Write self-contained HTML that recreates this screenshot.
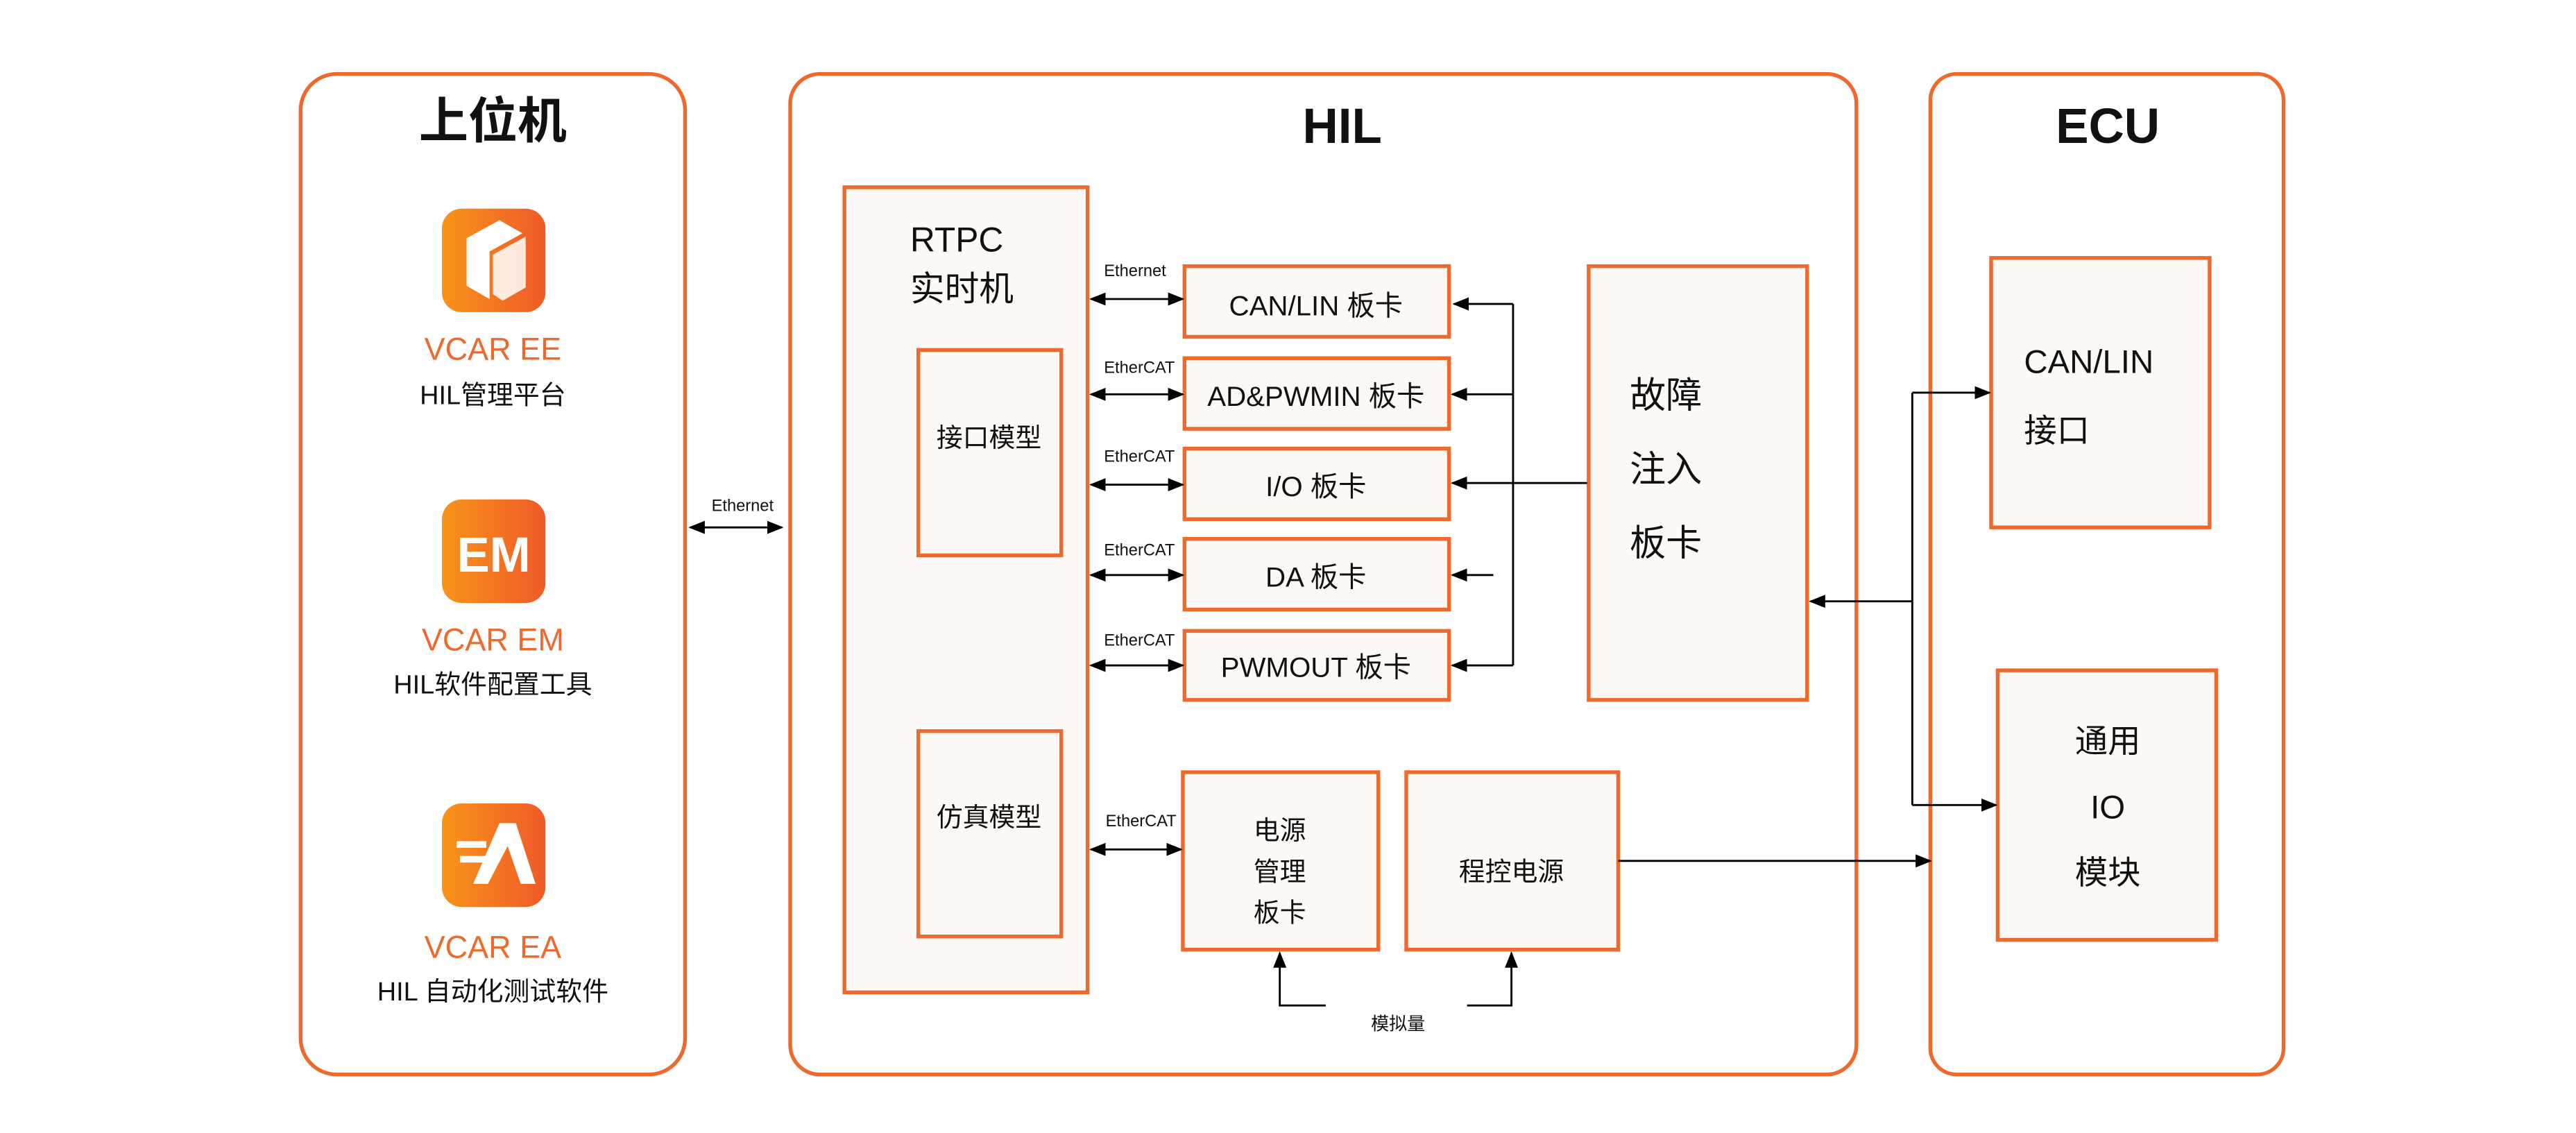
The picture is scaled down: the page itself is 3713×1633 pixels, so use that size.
<!DOCTYPE html>
<html><head><meta charset="utf-8"><style>
html,body{margin:0;padding:0;background:#fff}
svg{display:block}
text{font-family:"Liberation Sans","Noto Sans CJK SC",sans-serif;fill:#111}
</style></head><body>
<svg width="3713" height="1633" viewBox="0 0 1568 689.6" xmlns="http://www.w3.org/2000/svg">
<defs>
<linearGradient id="g" x1="0" x2="1" y1="0" y2="0"><stop offset="0" stop-color="#F8941A"/><stop offset="1" stop-color="#EF5A28"/></linearGradient>
<marker id="a" markerWidth="10" markerHeight="8" refX="9" refY="4" orient="auto-start-reverse" markerUnits="userSpaceOnUse"><path d="M0,0 L10,4 L0,8 z" fill="#000"/></marker>
</defs>
<g fill="none" stroke="#ED6A2E" stroke-width="2.3">
<rect x="183" y="45" width="234" height="609" rx="22" fill="#fff"/>
<rect x="481" y="45" width="649" height="609" rx="18" fill="#fff"/>
<rect x="1175" y="45" width="215" height="609" rx="16" fill="#fff"/>
<g fill="#FDF9F6">
<rect x="514" y="114" width="148" height="490"/>
<rect x="559" y="213" width="87" height="125"/>
<rect x="559" y="445" width="87" height="125"/>
<rect x="721" y="162" width="161" height="43"/>
<rect x="721" y="218" width="161" height="43"/>
<rect x="721" y="273" width="161" height="43"/>
<rect x="721" y="328" width="161" height="43"/>
<rect x="721" y="384" width="161" height="42"/>
<rect x="967" y="162" width="133" height="264"/>
<rect x="720" y="470" width="119" height="108"/>
<rect x="856" y="470" width="129" height="108"/>
<rect x="1212" y="157" width="133" height="164"/>
<rect x="1216" y="408" width="133" height="164"/>
</g></g>
<!-- icons -->
<rect x="269" y="127" width="63" height="63" rx="12" fill="url(#g)"/>
<path d="M284,145 L304,134 L318,142 L298,153 L298,182 L284,174 z" fill="#fff"/>
<path d="M300,155 L320,144 L320,175 L306,183 L300,179 z" fill="#fff" opacity=".85"/>
<rect x="269" y="304" width="63" height="63" rx="12" fill="url(#g)"/>
<text x="300.5" y="348" font-size="30" font-weight="bold" text-anchor="middle" style="fill:#fff">EM</text>
<rect x="269" y="489" width="63" height="63" rx="12" fill="url(#g)"/>
<path d="M288,538 L304,501 L314,501 L326,538 L317,538 L309,515 L297,538 z" fill="#fff"/>
<rect x="278" y="512" width="18" height="4" fill="#fff"/><rect x="280" y="521" width="18" height="4" fill="#fff"/>
<!-- titles -->
<g font-weight="bold" font-size="30" text-anchor="middle">
<text x="300" y="84">上位机</text>
<text x="817" y="87">HIL</text>
<text x="1283" y="87">ECU</text>
</g>
<g text-anchor="middle">
<text x="300" y="219" font-size="19" style="fill:#ED6A2E">VCAR EE</text>
<text x="300" y="246" font-size="16">HIL管理平台</text>
<text x="300" y="396" font-size="19" style="fill:#ED6A2E">VCAR EM</text>
<text x="300" y="422" font-size="16">HIL软件配置工具</text>
<text x="300" y="583" font-size="19" style="fill:#ED6A2E">VCAR EA</text>
<text x="300" y="609" font-size="16">HIL 自动化测试软件</text>
<text x="602" y="272" font-size="16">接口模型</text>
<text x="602" y="503" font-size="16">仿真模型</text>
<g font-size="17">
<text x="801" y="192">CAN/LIN 板卡</text>
<text x="801" y="247">AD&amp;PWMIN 板卡</text>
<text x="801" y="302">I/O 板卡</text>
<text x="801" y="357">DA 板卡</text>
<text x="801" y="412">PWMOUT 板卡</text>
</g>
<g font-size="16"><text x="779" y="511">电源</text><text x="779" y="536">管理</text><text x="779" y="561">板卡</text>
<text x="920" y="536">程控电源</text></g>
<g font-size="20"><text x="1283" y="458">通用</text><text x="1283" y="498">IO</text><text x="1283" y="538">模块</text></g>
<text x="851" y="627" font-size="11">模拟量</text>
<text x="452" y="311" font-size="10">Ethernet</text>
</g>
<text x="554" y="153" font-size="21">RTPC</text>
<text x="554" y="183" font-size="21">实时机</text>
<g font-size="22"><text x="992" y="248">故障</text><text x="992" y="293">注入</text><text x="992" y="338">板卡</text></g>
<text x="1232" y="227" font-size="20">CAN/LIN</text>
<text x="1232" y="269" font-size="20">接口</text>
<g font-size="10">
<text x="672" y="168">Ethernet</text>
<text x="672" y="227">EtherCAT</text>
<text x="672" y="281">EtherCAT</text>
<text x="672" y="338">EtherCAT</text>
<text x="672" y="393">EtherCAT</text>
<text x="673" y="503">EtherCAT</text>
</g>
<!-- connectors -->
<g stroke="#000" stroke-width="1.2" fill="none">
<line x1="420" y1="321" x2="476" y2="321" marker-start="url(#a)" marker-end="url(#a)"/>
<line x1="664" y1="182" x2="720" y2="182" marker-start="url(#a)" marker-end="url(#a)"/>
<line x1="664" y1="240" x2="720" y2="240" marker-start="url(#a)" marker-end="url(#a)"/>
<line x1="664" y1="295" x2="720" y2="295" marker-start="url(#a)" marker-end="url(#a)"/>
<line x1="664" y1="350" x2="720" y2="350" marker-start="url(#a)" marker-end="url(#a)"/>
<line x1="664" y1="405" x2="720" y2="405" marker-start="url(#a)" marker-end="url(#a)"/>
<line x1="664" y1="517" x2="719" y2="517" marker-start="url(#a)" marker-end="url(#a)"/>
<polyline points="921,405 921,185"/>
<line x1="921" y1="185" x2="885" y2="185" marker-end="url(#a)"/>
<line x1="921" y1="240" x2="884" y2="240" marker-end="url(#a)"/>
<line x1="966" y1="294" x2="884" y2="294" marker-end="url(#a)"/>
<line x1="909" y1="350" x2="884" y2="350" marker-end="url(#a)"/>
<line x1="921" y1="405" x2="884" y2="405" marker-end="url(#a)"/>
<line x1="985" y1="524" x2="1175" y2="524" marker-end="url(#a)"/>
<polyline points="807,612 779,612 779,580" marker-end="url(#a)"/>
<polyline points="893,612 920,612 920,580" marker-end="url(#a)"/>
<line x1="1164" y1="239" x2="1164" y2="490"/>
<line x1="1164" y1="239" x2="1211" y2="239" marker-end="url(#a)"/>
<line x1="1164" y1="490" x2="1215" y2="490" marker-end="url(#a)"/>
<line x1="1164" y1="366" x2="1102" y2="366" marker-end="url(#a)"/>
</g>
</svg>
</body></html>
